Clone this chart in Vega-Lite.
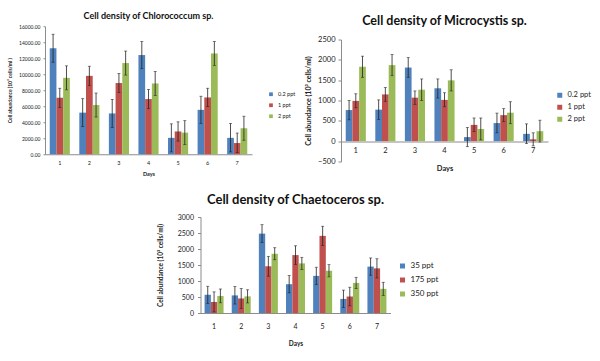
{
  "$schema": "https://vega.github.io/schema/vega-lite/v6.json",
  "background": "white",
  "padding": {"left": 7, "top": 12, "right": 0, "bottom": 0},
  "config": {
    "font": "Lato",
    "view": {"stroke": null},
    "axis": {"grid": false, "domainColor": "#8c8c8c", "tickColor": "#8c8c8c", "labelColor": "#222", "titleColor": "#222", "titleFontWeight": "bold", "labelOverlap": false},
    "legend": {"symbolType": "square", "labelColor": "#222"},
    "title": {"fontWeight": "bold", "color": "#111", "anchor": "middle", "frame": "group"}
  },
  "datasets": {
    "chl": [
      {"day": "1", "g": "0.2 ppt", "v": 13250, "lo": 11500, "hi": 15000},
      {"day": "1", "g": "1 ppt", "v": 7050, "lo": 5850, "hi": 8250},
      {"day": "1", "g": "2 ppt", "v": 9550, "lo": 8050, "hi": 11050},
      {"day": "2", "g": "0.2 ppt", "v": 5200, "lo": 3450, "hi": 6950},
      {"day": "2", "g": "1 ppt", "v": 9800, "lo": 8600, "hi": 11000},
      {"day": "2", "g": "2 ppt", "v": 6150, "lo": 4650, "hi": 7650},
      {"day": "3", "g": "0.2 ppt", "v": 5100, "lo": 3350, "hi": 6850},
      {"day": "3", "g": "1 ppt", "v": 8900, "lo": 7700, "hi": 10100},
      {"day": "3", "g": "2 ppt", "v": 11400, "lo": 9900, "hi": 12900},
      {"day": "4", "g": "0.2 ppt", "v": 12400, "lo": 10700, "hi": 14100},
      {"day": "4", "g": "1 ppt", "v": 6900, "lo": 5700, "hi": 8100},
      {"day": "4", "g": "2 ppt", "v": 8850, "lo": 7350, "hi": 10350},
      {"day": "5", "g": "0.2 ppt", "v": 2050, "lo": 300, "hi": 3800},
      {"day": "5", "g": "1 ppt", "v": 2850, "lo": 1650, "hi": 4050},
      {"day": "5", "g": "2 ppt", "v": 2700, "lo": 1200, "hi": 4200},
      {"day": "6", "g": "0.2 ppt", "v": 5550, "lo": 3850, "hi": 7250},
      {"day": "6", "g": "1 ppt", "v": 7100, "lo": 5950, "hi": 8250},
      {"day": "6", "g": "2 ppt", "v": 12600, "lo": 11100, "hi": 14100},
      {"day": "7", "g": "0.2 ppt", "v": 2050, "lo": 300, "hi": 3850},
      {"day": "7", "g": "1 ppt", "v": 1400, "lo": 200, "hi": 2650},
      {"day": "7", "g": "2 ppt", "v": 3250, "lo": 1750, "hi": 4750}
    ],
    "mic": [
      {"day": "1", "g": "0.2 ppt", "v": 765, "lo": 525, "hi": 1000},
      {"day": "1", "g": "1 ppt", "v": 990, "lo": 820, "hi": 1165},
      {"day": "1", "g": "2 ppt", "v": 1830, "lo": 1570, "hi": 2090},
      {"day": "2", "g": "0.2 ppt", "v": 775, "lo": 535, "hi": 1015},
      {"day": "2", "g": "1 ppt", "v": 1150, "lo": 980, "hi": 1320},
      {"day": "2", "g": "2 ppt", "v": 1870, "lo": 1610, "hi": 2130},
      {"day": "3", "g": "0.2 ppt", "v": 1810, "lo": 1570, "hi": 2055},
      {"day": "3", "g": "1 ppt", "v": 1070, "lo": 905, "hi": 1235},
      {"day": "3", "g": "2 ppt", "v": 1265, "lo": 1000, "hi": 1530},
      {"day": "4", "g": "0.2 ppt", "v": 1300, "lo": 1060, "hi": 1530},
      {"day": "4", "g": "1 ppt", "v": 1015, "lo": 845, "hi": 1190},
      {"day": "4", "g": "2 ppt", "v": 1495, "lo": 1235, "hi": 1755},
      {"day": "5", "g": "0.2 ppt", "v": 100, "lo": -135, "hi": 335},
      {"day": "5", "g": "1 ppt", "v": 400, "lo": 235, "hi": 570},
      {"day": "5", "g": "2 ppt", "v": 300, "lo": 30, "hi": 570},
      {"day": "6", "g": "0.2 ppt", "v": 445, "lo": 205, "hi": 690},
      {"day": "6", "g": "1 ppt", "v": 640, "lo": 480, "hi": 800},
      {"day": "6", "g": "2 ppt", "v": 700, "lo": 430, "hi": 970},
      {"day": "7", "g": "0.2 ppt", "v": 180, "lo": -60, "hi": 425},
      {"day": "7", "g": "1 ppt", "v": 45, "lo": -115, "hi": 205},
      {"day": "7", "g": "2 ppt", "v": 245, "lo": -20, "hi": 515}
    ],
    "cha": [
      {"day": "1", "g": "35 ppt", "v": 570, "lo": 300, "hi": 835},
      {"day": "1", "g": "175 ppt", "v": 345, "lo": 35, "hi": 660},
      {"day": "1", "g": "350 ppt", "v": 530, "lo": 320, "hi": 750},
      {"day": "2", "g": "35 ppt", "v": 550, "lo": 280, "hi": 825},
      {"day": "2", "g": "175 ppt", "v": 455, "lo": 145, "hi": 765},
      {"day": "2", "g": "350 ppt", "v": 520, "lo": 315, "hi": 725},
      {"day": "3", "g": "35 ppt", "v": 2480, "lo": 2200, "hi": 2760},
      {"day": "3", "g": "175 ppt", "v": 1460, "lo": 1150, "hi": 1770},
      {"day": "3", "g": "350 ppt", "v": 1850, "lo": 1665, "hi": 2040},
      {"day": "4", "g": "35 ppt", "v": 900, "lo": 630, "hi": 1170},
      {"day": "4", "g": "175 ppt", "v": 1810, "lo": 1520, "hi": 2100},
      {"day": "4", "g": "350 ppt", "v": 1550, "lo": 1360, "hi": 1740},
      {"day": "5", "g": "35 ppt", "v": 1160, "lo": 890, "hi": 1430},
      {"day": "5", "g": "175 ppt", "v": 2410, "lo": 2110, "hi": 2710},
      {"day": "5", "g": "350 ppt", "v": 1320, "lo": 1130, "hi": 1510},
      {"day": "6", "g": "35 ppt", "v": 440, "lo": 170, "hi": 715},
      {"day": "6", "g": "175 ppt", "v": 515, "lo": 225, "hi": 805},
      {"day": "6", "g": "350 ppt", "v": 940, "lo": 765, "hi": 1115},
      {"day": "7", "g": "35 ppt", "v": 1450, "lo": 1180, "hi": 1720},
      {"day": "7", "g": "175 ppt", "v": 1395, "lo": 1095, "hi": 1695},
      {"day": "7", "g": "350 ppt", "v": 755, "lo": 550, "hi": 960}
    ]
  },
  "resolve": {"scale": {"color": "independent", "y": "independent", "x": "independent", "xOffset": "independent"}, "legend": {"color": "independent"}},
  "spacing": 9,
  "center": true,
  "vconcat": [
    {
      "hconcat": [
        {
          "title": {"text": "Cell density of Chlorococcum sp.", "fontSize": 9, "offset": 3},
          "width": 207,
          "height": 128,
          "data": {"name": "chl"},
          "encoding": {
            "x": {"field": "day", "type": "ordinal", "scale": {"paddingInner": 0.32, "paddingOuter": 0.16}, "axis": {"title": ["Days", ""], "labelAngle": 0, "labelFontSize": 5.5, "titleFontSize": 5.5, "ticks": false, "labelPadding": 6, "titlePadding": 6}},
            "xOffset": {"field": "g", "type": "nominal", "scale": {"domain": ["0.2 ppt", "1 ppt", "2 ppt"]}}
          },
          "layer": [
            {
              "mark": {"type": "bar"},
              "encoding": {
                "y": {"field": "v", "type": "quantitative", "scale": {"domain": [0, 16000], "nice": false}, "axis": {"title": "Cell abundance (10³ cells/ml )", "format": ".2f", "values": [0, 2000, 4000, 6000, 8000, 10000, 12000, 14000, 16000], "tickCount": 20, "labelOverlap": false, "labelFontSize": 5, "titleFontSize": 5, "tickSize": 2, "labelPadding": 3, "titlePadding": 6}},
                "color": {"field": "g", "type": "nominal", "scale": {"domain": ["0.2 ppt", "1 ppt", "2 ppt"], "range": ["#4F81BD", "#C0504D", "#9BBB59"]}, "legend": {"title": null, "orient": "none", "legendX": 223, "legendY": 65, "labelFontSize": 5.5, "symbolSize": 14, "rowPadding": 4}}
              }
            },
            {"mark": {"type": "rule", "color": "#222", "strokeWidth": 0.8}, "encoding": {"y": {"field": "lo", "type": "quantitative"}, "y2": {"field": "hi"}}},
            {"mark": {"type": "tick", "color": "#222", "thickness": 0.8, "size": 3}, "encoding": {"y": {"field": "hi", "type": "quantitative"}}},
            {"mark": {"type": "tick", "color": "#222", "thickness": 0.8, "size": 3}, "encoding": {"y": {"field": "lo", "type": "quantitative"}}}
          ]
        },
        {
          "title": {"text": "Cell density of Microcystis sp.", "fontSize": 12.5, "offset": 8},
          "width": 207,
          "height": 122,
          "data": {"name": "mic"},
          "encoding": {
            "x": {"field": "day", "type": "ordinal", "scale": {"paddingInner": 0.32, "paddingOuter": 0.16}, "axis": {"title": "Days", "labelAngle": 0, "labelFontSize": 7.5, "titleFontSize": 7.5, "ticks": false, "offset": -20, "labelPadding": 5, "titlePadding": 10}},
            "xOffset": {"field": "g", "type": "nominal", "scale": {"domain": ["0.2 ppt", "1 ppt", "2 ppt"]}}
          },
          "layer": [
            {
              "mark": {"type": "bar"},
              "encoding": {
                "y": {"field": "v", "type": "quantitative", "scale": {"domain": [-500, 2500], "nice": false}, "axis": {"title": "Cell abundance (10³ cells/ml)", "format": "d", "values": [-500, 0, 500, 1000, 1500, 2000, 2500], "tickCount": 20, "labelOverlap": false, "labelFontSize": 7.5, "titleFontSize": 7, "tickSize": 3, "labelPadding": 3, "titlePadding": 6}},
                "color": {"field": "g", "type": "nominal", "scale": {"domain": ["0.2 ppt", "1 ppt", "2 ppt"], "range": ["#4F81BD", "#C0504D", "#9BBB59"]}, "legend": {"title": null, "orient": "none", "legendX": 212, "legendY": 49, "padding": 3, "labelFontSize": 7.5, "symbolSize": 25, "rowPadding": 3}}
              }
            },
            {"mark": {"type": "rule", "color": "#222", "strokeWidth": 0.8}, "encoding": {"y": {"field": "lo", "type": "quantitative"}, "y2": {"field": "hi"}}},
            {"mark": {"type": "tick", "color": "#222", "thickness": 0.8, "size": 3}, "encoding": {"y": {"field": "hi", "type": "quantitative"}}},
            {"mark": {"type": "tick", "color": "#222", "thickness": 0.8, "size": 3}, "encoding": {"y": {"field": "lo", "type": "quantitative"}}}
          ]
        }
      ],
      "spacing": 8,
      "center": true,
      "resolve": {"scale": {"color": "independent", "y": "independent", "x": "independent", "xOffset": "independent"}, "legend": {"color": "independent"}}
    },
    {
      "title": {"text": "Cell density of Chaetoceros sp.", "fontSize": 13, "offset": 6},
      "width": 190,
      "height": 96,
      "data": {"name": "cha"},
      "encoding": {
        "x": {"field": "day", "type": "ordinal", "scale": {"paddingInner": 0.3, "paddingOuter": 0.15}, "axis": {"title": "Days", "labelAngle": 0, "labelFontSize": 7, "titleFontSize": 6.5, "ticks": false, "labelPadding": 9, "titlePadding": 11}},
        "xOffset": {"field": "g", "type": "nominal", "scale": {"domain": ["35 ppt", "175 ppt", "350 ppt"]}}
      },
      "layer": [
        {
          "mark": {"type": "bar"},
          "encoding": {
            "y": {"field": "v", "type": "quantitative", "scale": {"domain": [0, 3000], "nice": false}, "axis": {"title": "Cell abundance (10³ cells/ml)", "format": "d", "values": [0, 500, 1000, 1500, 2000, 2500, 3000], "tickCount": 20, "labelOverlap": false, "labelFontSize": 7, "titleFontSize": 6.5, "tickSize": 3, "labelPadding": 4, "titlePadding": 14}},
            "color": {"field": "g", "type": "nominal", "scale": {"domain": ["35 ppt", "175 ppt", "350 ppt"], "range": ["#4F81BD", "#C0504D", "#9BBB59"]}, "legend": {"title": null, "orient": "none", "legendX": 198, "legendY": 45, "labelFontSize": 8, "symbolSize": 25, "rowPadding": 6}}
          }
        },
        {"mark": {"type": "rule", "color": "#222", "strokeWidth": 0.8}, "encoding": {"y": {"field": "lo", "type": "quantitative"}, "y2": {"field": "hi"}}},
        {"mark": {"type": "tick", "color": "#222", "thickness": 0.8, "size": 3}, "encoding": {"y": {"field": "hi", "type": "quantitative"}}},
        {"mark": {"type": "tick", "color": "#222", "thickness": 0.8, "size": 3}, "encoding": {"y": {"field": "lo", "type": "quantitative"}}}
      ]
    }
  ]
}
